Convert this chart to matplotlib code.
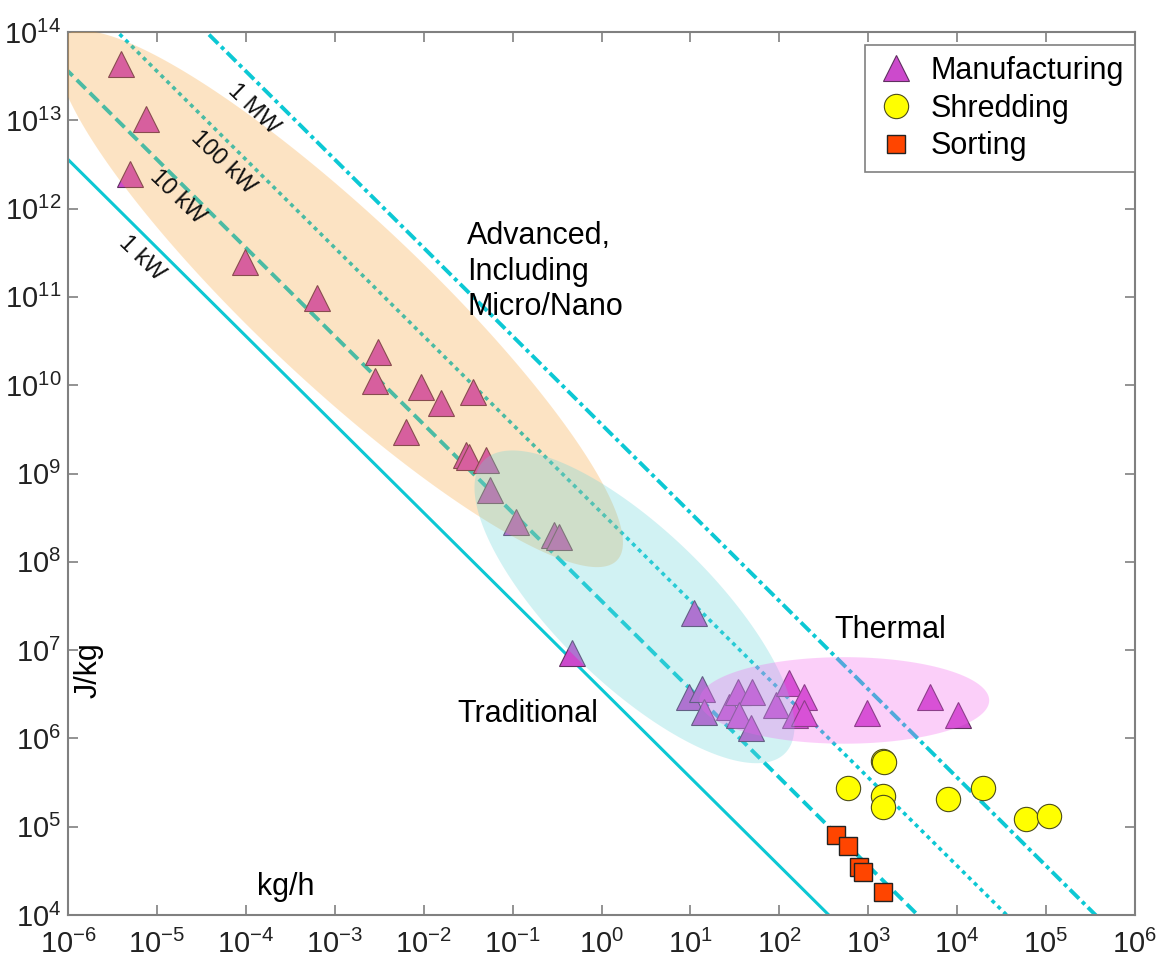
import numpy as np
import matplotlib.pyplot as plt
from matplotlib.ticker import FixedLocator, FuncFormatter, NullLocator

plt.rcParams['font.family'] = ['Liberation Sans', 'DejaVu Sans']
plt.rcParams['mathtext.fontset'] = 'custom'
plt.rcParams['mathtext.rm'] = 'Liberation Sans'
plt.rcParams['mathtext.it'] = 'Liberation Sans:italic'
plt.rcParams['mathtext.bf'] = 'Liberation Sans:bold'

# ---- data: log10(kg/h) and log10(J/kg) ----
manuf_logx = [-5.404, -5.125, -5.300, -4.008, -3.196, -2.517, -2.542, -2.029,
              -1.446, -1.808, -2.204, -1.529, -1.488, -1.300, -1.258, -0.967,
              -0.529, -0.479, 1.037, -0.337, 0.989, 1.129, 1.157, 1.430,
              1.531, 1.692, 1.543, 1.679, 1.961, 2.114, 2.274, 2.173,
              2.274, 2.989, 3.689, 4.010]
manuf_logy = [13.640, 13.013, 12.395, 11.392, 10.982, 10.377, 10.053, 9.975,
              9.923, 9.793, 9.469, 9.210, 9.188, 9.154, 8.808, 8.454,
              8.303, 8.281, 7.417, 6.964, 6.473, 6.556, 6.303, 6.359,
              6.529, 6.529, 6.265, 6.114, 6.378, 6.624, 6.473, 6.265,
              6.284, 6.284, 6.473, 6.265]

shred_logx = [3.164, 3.182, 2.771, 3.171, 3.171, 3.902, 4.296, 4.773, 5.038]
shred_logy = [5.747, 5.736, 5.441, 5.347, 5.219, 5.316, 5.441, 5.082, 5.119]

sort_logx = [2.639, 2.777, 2.901, 2.946, 3.171]
sort_logy = [4.906, 4.781, 4.547, 4.491, 4.264]

# constant power lines (W), J/kg = 3600 * P / (kg/h)
power_w = [1e3, 1e4, 1e5, 1e6]
power_labels = ['1 kW', '10 kW', '100 kW', '1 MW']
label_logx = [-5.168, -4.774, -4.256, -3.919]
label_logy = [11.441, 12.131, 12.517, 13.128]

# shaded regions in log space: centre, semi axes (decades), angle (deg)
region_cx = [-2.944, 0.371, 2.73]
region_cy = [10.977, 7.49, 6.43]
region_a = [4.30, 2.37, 1.63]
region_b = [0.94, 0.87, 0.49]
region_ang = [-43.5, -44.4, 0.0]
region_colors = ['#f79b23', '#69d4da', '#f562ee']
region_alpha = [0.27, 0.30, 0.30]

line_color = '#0cc8d4'
line_styles = ['-', (0, (3.2, 1.5)), (0, (1.1, 1.2)), (0, (3.3, 1.1, 1.0, 1.1))]
line_widths = [2.2, 2.8, 2.6, 2.8]

fig = plt.figure(figsize=(11.6, 9.67), dpi=100)
ax = fig.add_axes([68 / 1160, 1 - 915 / 967, (1135 - 68) / 1160, (915 - 32) / 967])
ax.set_xscale('log')
ax.set_yscale('log')
ax.set_xlim(1e-6, 1e6)
ax.set_ylim(1e4, 1e14)

xs = np.logspace(-7, 7, 100)
for p, ls, lw in zip(power_w, line_styles, line_widths):
    ax.plot(xs, 3600 * p / xs, color=line_color, ls=ls, lw=lw, zorder=1)

for lab, lx, ly in zip(power_labels, label_logx, label_logy):
    ax.text(10 ** lx, 10 ** ly, lab, rotation=-44, ha='center', va='center',
            rotation_mode='anchor', fontsize=17, color='#111111', zorder=5)

# markers
ax.plot(10 ** np.array(manuf_logx), 10 ** np.array(manuf_logy), ls='none', marker='^',
        ms=19, mfc='#cc4acc', mec='#603060', mew=0.8, label='Manufacturing', zorder=2)
ax.plot(10 ** np.array(shred_logx), 10 ** np.array(shred_logy), ls='none', marker='o',
        ms=17.5, mfc='#ffff00', mec='#4d4d1a', mew=0.8, label='Shredding', zorder=2)
ax.plot(10 ** np.array(sort_logx), 10 ** np.array(sort_logy), ls='none', marker='s',
        ms=13.5, mfc='#ff4500', mec='#222222', mew=1.0, label='Sorting', zorder=2)

# ellipses drawn over lines and markers
t = np.linspace(0, 2 * np.pi, 300)
for cx, cy, a, b, ang, col, al in zip(region_cx, region_cy, region_a, region_b,
                                      region_ang, region_colors, region_alpha):
    th = np.deg2rad(ang)
    u = a * np.cos(t)
    v = b * np.sin(t)
    ex = cx + u * np.cos(th) - v * np.sin(th)
    ey = cy + u * np.sin(th) + v * np.cos(th)
    ax.fill(10 ** ex, 10 ** ey, color=col, alpha=al, lw=0, zorder=3)

# region / axis texts
ax.text(0.374, 0.786, 'Advanced,\nIncluding\nMicro/Nano', transform=ax.transAxes,
        ha='left', va='top', fontsize=22, linespacing=1.25, zorder=5)
ax.text(0.718, 0.314, 'Thermal', transform=ax.transAxes, ha='left', va='baseline',
        fontsize=22, zorder=5)
ax.text(0.365, 0.219, 'Traditional', transform=ax.transAxes, ha='left', va='baseline',
        fontsize=22, zorder=5)
ax.text(0.177, 0.023, 'kg/h', transform=ax.transAxes, ha='left', va='baseline',
        fontsize=22, zorder=5)
ax.text(0.019, 0.277, 'J/kg', transform=ax.transAxes, ha='center', va='center',
        rotation=90, fontsize=22, zorder=5)

# axes styling
ax.xaxis.set_major_locator(FixedLocator(10.0 ** np.arange(-6, 7)))
ax.yaxis.set_major_locator(FixedLocator(10.0 ** np.arange(4, 15)))
ax.xaxis.set_minor_locator(NullLocator())
ax.yaxis.set_minor_locator(NullLocator())
fmt = FuncFormatter(lambda v, pos: r'$10^{%d}$' % int(round(np.log10(v))))
ax.xaxis.set_major_formatter(fmt)
ax.yaxis.set_major_formatter(fmt)
ax.tick_params(which='both', direction='in', top=True, right=True, length=7,
               width=1.2, color='#808080', labelsize=21, labelcolor='#222222')
ax.tick_params(axis='x', pad=11)
ax.tick_params(axis='y', pad=5)
for sp in ax.spines.values():
    sp.set_color('#808080')
    sp.set_linewidth(1.5)

leg = ax.legend(loc='upper right', bbox_to_anchor=(1.0, 0.985), borderaxespad=0,
                fontsize=22, fancybox=False, framealpha=1, edgecolor='#808080',
                handletextpad=0.5, labelspacing=0.25, borderpad=0.35, handlelength=1.3)
leg.get_frame().set_linewidth(1.2)
leg.set_zorder(10)

fig.savefig('out.png', dpi=100)
